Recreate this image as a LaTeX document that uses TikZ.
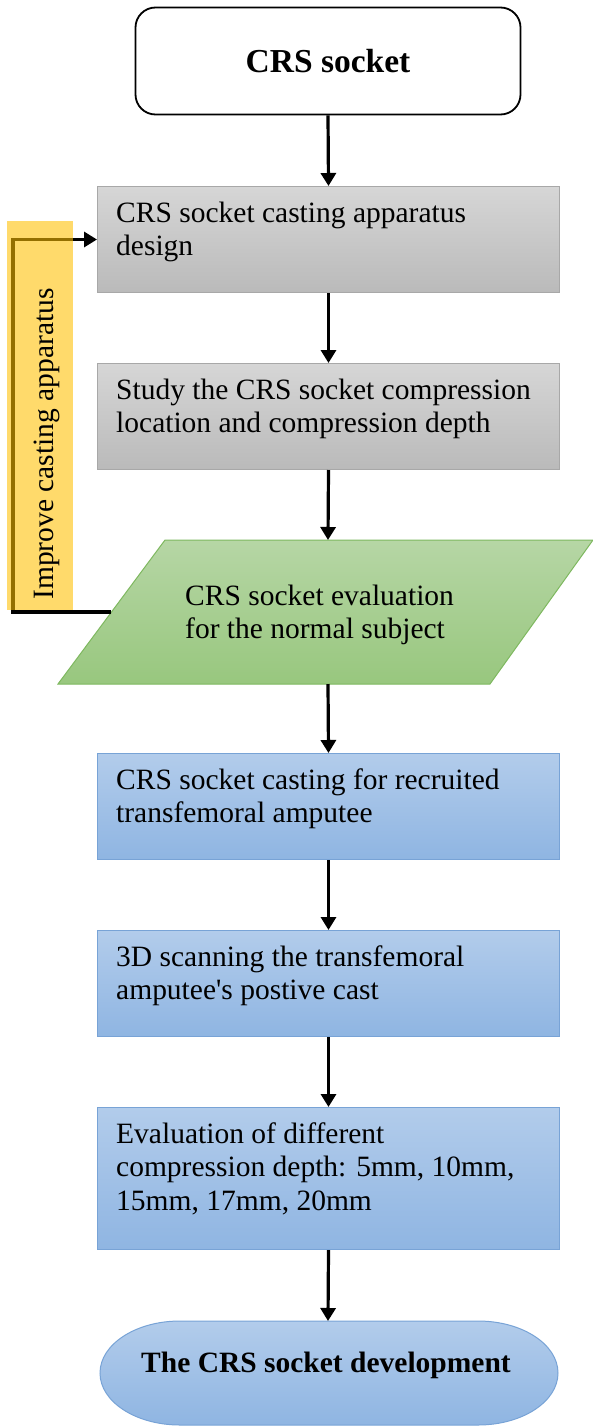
\documentclass[tikz,border=0pt]{standalone}
\usepackage{fontspec}
\setmainfont{Liberation Serif}
\usetikzlibrary{arrows.meta}
\definecolor{grayT}{RGB}{214,214,214}
\definecolor{grayB}{RGB}{186,186,186}
\definecolor{grayE}{RGB}{168,168,168}
\definecolor{greenT}{RGB}{182,214,165}
\definecolor{greenB}{RGB}{152,199,126}
\definecolor{greenE}{RGB}{126,184,95}
\definecolor{blueT}{RGB}{178,204,235}
\definecolor{blueB}{RGB}{143,181,226}
\definecolor{blueE}{RGB}{120,163,214}
\definecolor{gold}{RGB}{255,192,0}
\begin{document}
\begin{tikzpicture}[x=1pt,y=-1pt,
  txt/.style={font=\fontsize{29.5}{33.5}\selectfont, inner sep=0pt, align=left, anchor=north west},
  graybox/.style={draw=grayE, line width=1pt, top color=grayT, bottom color=grayB, minimum width=462pt, minimum height=106pt, inner sep=0pt, anchor=north west},
  bluebox/.style={draw=blueE, line width=1pt, top color=blueT, bottom color=blueB, minimum width=462pt, minimum height=106pt, inner sep=0pt, anchor=north west},
  flow/.style={line width=3.2pt, -{Triangle[length=13pt,width=15pt]}}
]
\useasboundingbox (0,0) rectangle (592,1427);

% start node
\node[draw, line width=1.8pt, rounded corners=20pt, minimum width=385pt, minimum height=107pt,
      font=\bfseries\fontsize{33.5}{37}\selectfont, inner sep=0pt] (top) at (328,61) {CRS socket};

% boxes
\node[graybox] (b1) at (97,186) {};
\node[txt] (t1) at (116,198) {\rule{0pt}{24pt}CRS socket casting apparatus\\design};
\node[graybox] (b2) at (97,363) {};
\node[txt] (t2) at (116,375) {\rule{0pt}{24pt}Study the CRS socket compression\\location and compression depth};

% parallelogram
\path[draw=greenE, line width=1pt, top color=greenT, bottom color=greenB]
  (165,540) -- (593,540) -- (490,684) -- (58,684) -- cycle;
\coordinate (pt) at (328,540);
\coordinate (pb) at (328,684);
\coordinate (pl) at (111,612);
\node[txt] (tp) at (185,581) {\rule{0pt}{24pt}CRS socket evaluation\\for the normal subject};

\node[bluebox] (b3) at (97,753) {};
\node[txt] (t3) at (116,765) {\rule{0pt}{24pt}CRS socket casting for recruited\\transfemoral amputee};
\node[bluebox] (b4) at (97,930) {};
\node[txt] (t4) at (116,942) {\rule{0pt}{24pt}3D scanning the transfemoral\\amputee\textquotesingle s postive cast};
\node[bluebox, minimum height=142pt] (b5) at (97,1107) {};
\node[txt] (t5) at (116,1119) {\rule{0pt}{24pt}Evaluation of different\\compression depth: 5mm, 10mm,\\15mm, 17mm, 20mm};

% end shape
\path[draw=blueE, line width=1pt, top color=blueT, bottom color=blueB]
  (180,1321) -- (478,1321) arc[start angle=-90,end angle=90,x radius=80,y radius=52]
  -- (180,1425) arc[start angle=90,end angle=270,x radius=80,y radius=52] -- cycle;
\coordinate (et) at (328,1321);
\node[font=\bfseries\fontsize{29.5}{33}\selectfont, anchor=base, inner sep=0pt] (endtxt) at (326,1372) {The CRS socket development};

% arrows
\draw[flow] (top.south) -- (b1.north);
\draw[flow] (b1.south) -- (b2.north);
\draw[flow] (b2.south) -- (pt);
\draw[flow] (pb) -- (b3.north);
\draw[flow] (b3.south) -- (b4.north);
\draw[flow] (b4.south) -- (b5.north);
\draw[flow] (b5.south) -- (et);

% feedback loop
\coordinate (fbc) at (13,612);
\draw[flow, line join=miter] (pl) -- (fbc) |- (b1.west);
\fill[gold, fill opacity=0.58] (7,221) rectangle (73,610);
\node[rotate=90, anchor=base, font=\fontsize{29.5}{33.5}\selectfont, inner sep=0pt] (lab) at (53,444) {Improve casting apparatus};
\end{tikzpicture}
\end{document}
